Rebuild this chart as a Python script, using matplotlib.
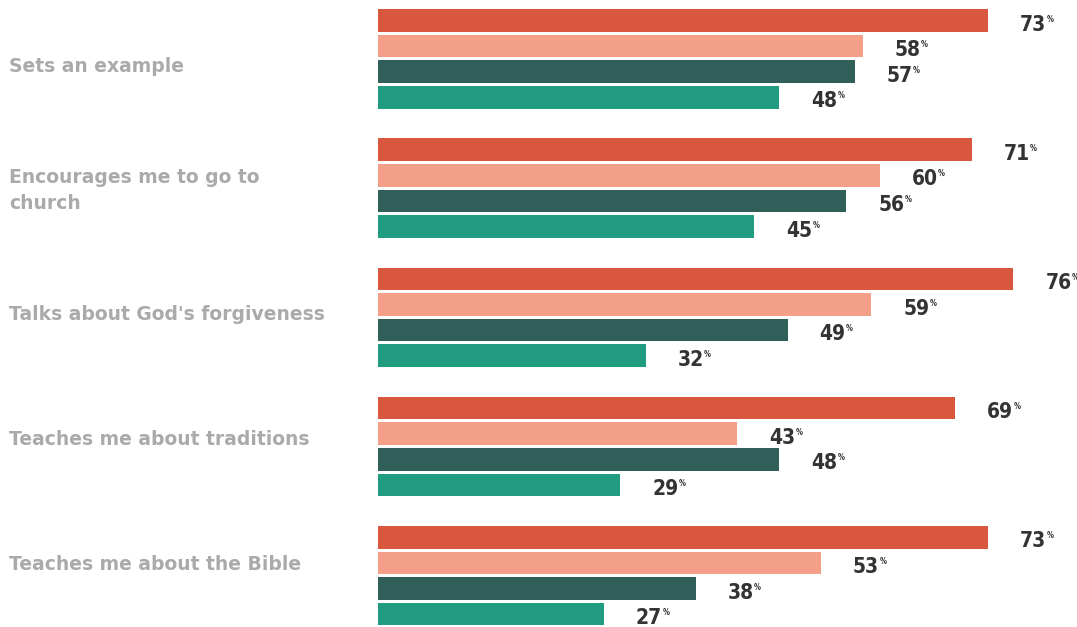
import numpy as np
import matplotlib.pyplot as plt

# Dati
categorie = ["Sets an example", "Encourages me to go to\nchurch",
             "Talks about God's forgiveness", "Teaches me about traditions",
             "Teaches me about the Bible"]
serie1 = [73, 71, 76, 69, 73]
serie2 = [58, 60, 59, 43, 53]
serie3 = [57, 56, 49, 48, 38]
serie4 = [48, 45, 32, 29, 27]

colori = ["#d9573f", "#f4a089", "#2f5f58", "#229c80"]

# Geometria in pixel
W, H = 1077, 627
x0 = 378
px_per_pct = 8.36
passo_gruppo = 129.2
passo_barra = 25.6
alt_barra = 22.5
primo = 20.5

fig = plt.figure(figsize=(W / 100, H / 100), dpi=100)
ax = fig.add_axes([x0 / W, 0, 1 - x0 / W, 1])
ax.set_xlim(0, (W - x0) / px_per_pct)
ax.set_ylim(H, 0)
ax.axis("off")

for j, serie in enumerate([serie1, serie2, serie3, serie4]):
    y = primo + np.arange(len(categorie)) * passo_gruppo + j * passo_barra
    ax.barh(y, serie, height=alt_barra, color=colori[j], left=0)
    for yy, v in zip(y, serie):
        t = ax.annotate(str(v), xy=(v, yy), xytext=(23, -3), textcoords="offset points",
                        ha="left", va="center", fontsize=15, fontweight="bold",
                        fontstretch="condensed", color="#333333", family="DejaVu Sans")
        ax.annotate("%", xy=(1, 1), xycoords=t, xytext=(0.3, 0), textcoords="offset points",
                    ha="left", va="top", fontsize=5.5, fontweight="bold",
                    fontstretch="condensed", color="#333333", family="DejaVu Sans")

# Etichette categorie
for i, c in enumerate(categorie):
    yc = 66 + i * 124.5
    fig.text(9 / W, 1 - yc / H, c, ha="left", va="center", fontsize=13.5,
             fontweight="bold", color="#aaaaaa", family="DejaVu Sans",
             linespacing=1.45)

fig.savefig("out.png", dpi=100)
